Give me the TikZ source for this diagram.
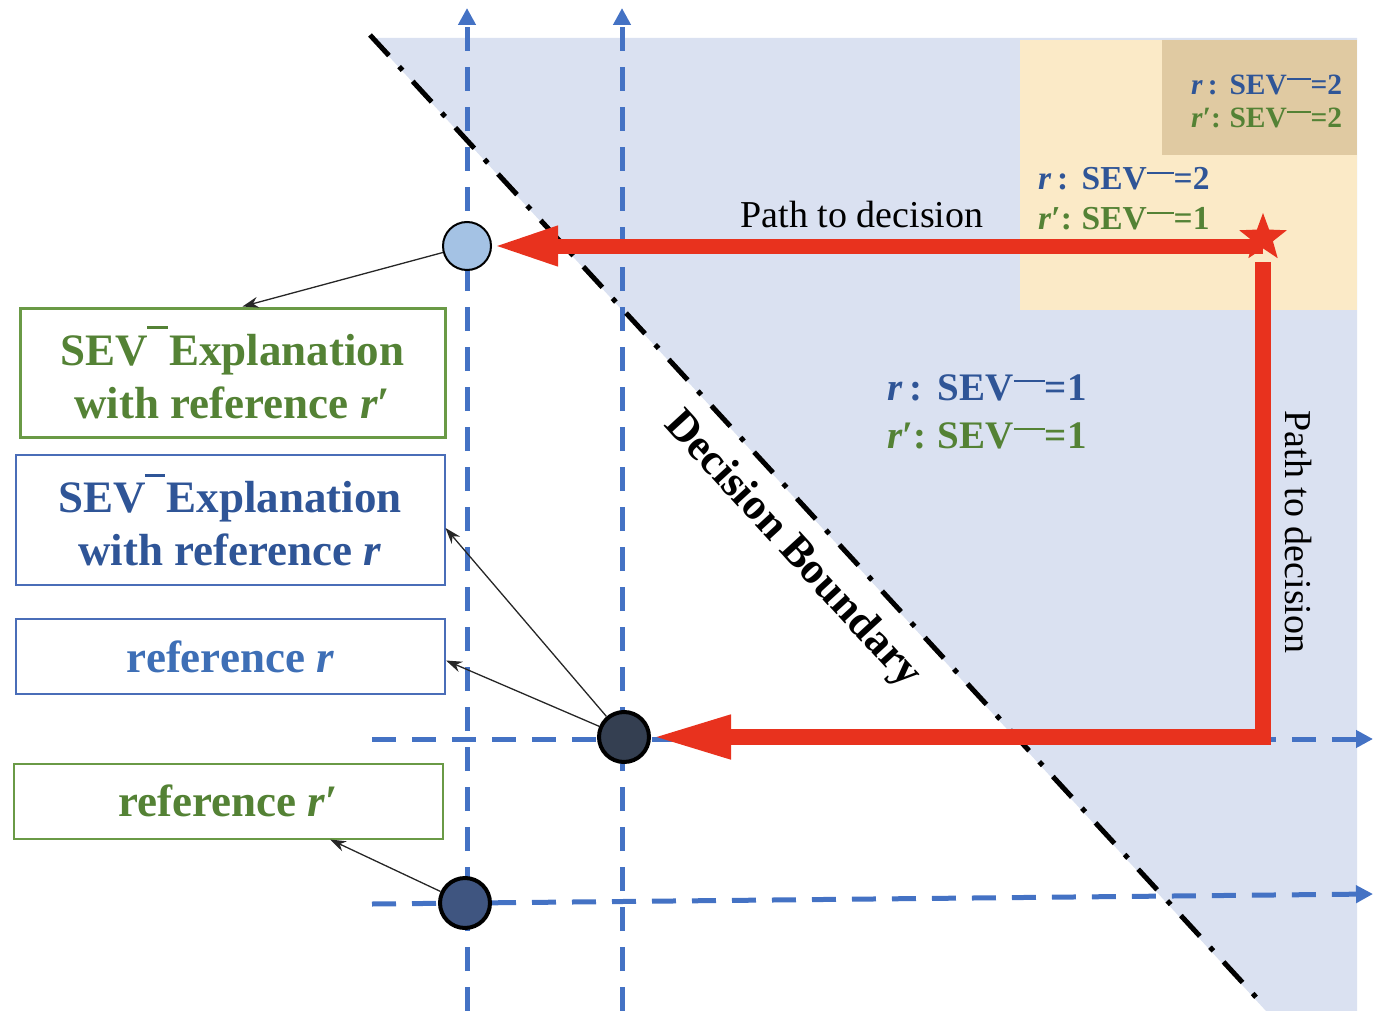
\documentclass[tikz,border=0pt]{standalone}
\usepackage{fontspec}
\setmainfont{Liberation Serif}
\usetikzlibrary{arrows.meta,shapes.geometric}
\definecolor{bgblue}{HTML}{DAE1F1}
\definecolor{bgyel}{HTML}{FBEAC7}
\definecolor{bgtan}{HTML}{E0CAA2}
\definecolor{dblue}{HTML}{2F5597}
\definecolor{lblue}{HTML}{3E6FB6}
\definecolor{dgreen}{HTML}{548235}
\definecolor{bgreen}{HTML}{6A9A46}
\definecolor{bblue}{HTML}{4A6DB8}
\definecolor{gridc}{HTML}{4472C4}
\definecolor{redc}{HTML}{E8321E}
\definecolor{lcirc}{HTML}{A4C2E4}
\definecolor{dcirc}{HTML}{343F51}
\definecolor{ncirc}{HTML}{3F5580}
\newcommand{\sevbar}{\hspace{-0.02em}\raisebox{0.8em}{\rule{0.45em}{0.07em}}\hspace{0.03em}}
\newcommand{\sevm}{\raisebox{0.47em}{\rule{0.8em}{0.06em}}}
\newcommand{\rpr}{\textit{r}′}
\newcommand{\lab}[2]{\makebox[1.3em][l]{#1}SEV\sevm=#2}
\begin{document}
\begin{tikzpicture}[x=1pt,y=-1pt,
  gridline/.style={draw=gridc, line width=5pt, dash pattern=on 24pt off 16pt, -{Triangle[length=17pt,width=17pt]}},
  boundary/.style={draw=black, line width=5pt, dash pattern=on 28pt off 15pt on 5pt off 15pt},
  redpath/.style={draw=redc, line width=15pt, line join=miter},
  thinarrow/.style={draw=black!85, line width=1.3pt, -{Stealth[length=16pt,width=11pt]}},
  boxbase/.style={rectangle, inner sep=0pt, align=center, font=\bfseries\fontsize{45}{53}\selectfont},
  greenbox/.style={boxbase, draw=bgreen, text=dgreen},
  bluebox/.style={boxbase, draw=bblue, text=dblue},
  dot/.style={circle, draw=black, minimum size=48pt, inner sep=0pt},
  labtext/.style={anchor=west, align=left, inner sep=0pt},
  redstar/.style={star, star points=5, star point ratio=2.4, fill=redc, inner sep=0pt, minimum size=50pt}
]
\useasboundingbox (0,0) rectangle (1373,1011);
% background regions
\fill[bgblue] (372,38) -- (1357,38) -- (1357,1011) -- (1266,1011) -- cycle;
\fill[bgyel] (1020,40) rectangle (1357,310);
\fill[bgtan] (1162,40) rectangle (1357,155);

% grid coordinates
\coordinate (v1b) at (467,1011);
\coordinate (v1t) at (467,8);
\coordinate (v2b) at (622,1011);
\coordinate (v2t) at (622,8);
\coordinate (h1l) at (372,739);
\coordinate (h1r) at (1373,739);
\coordinate (h2l) at (372,904);
\coordinate (h2r) at (1373,894);
\draw[gridline] (v1b) -- (v1t);
\draw[gridline] (v2b) -- (v2t);
\draw[gridline] (h1l) -- (h1r);
\draw[gridline] (h2l) -- (h2r);

% decision boundary
\coordinate (bs) at (370,35);
\coordinate (be) at (1266,1008);
\draw[boundary] (bs) -- (be);

% circles
\node[dot, fill=lcirc, line width=2pt] (lc) at (467,246) {};
\node[dot, fill=dcirc, line width=4pt, minimum size=50pt] (dc) at (624,737) {};
\node[dot, fill=ncirc, line width=4pt, minimum size=50pt] (nc) at (465,903) {};

% star and red paths
\coordinate (hs) at (1263,246);
\coordinate (vs) at (1263,262);
\draw[redpath, -{Triangle[length=66pt,width=36pt]}] (hs) -- (lc);
\draw[redpath, line width=16pt, -{Triangle[length=80pt,width=40pt]}] (vs) -- (vs |- dc) -- (dc);
\node[redstar] (st) at (1263,238) {};

% boxes
\node[greenbox, line width=3pt, minimum width=425pt, minimum height=129pt] (b1) at (232.5,372.5)
  {SEV\sevbar Explanation\\with reference \rpr};
\node[bluebox, line width=2pt, minimum width=429pt, minimum height=130pt] (b2) at (230,520)
  {SEV\sevbar Explanation\\with reference \textit{r}};
\node[boxbase, draw=bblue, text=lblue, line width=2pt, minimum width=429pt, minimum height=75pt] (b3) at (230.5,656.5)
  {reference \textit{r}};
\node[greenbox, line width=2pt, minimum width=429pt, minimum height=75pt] (b4) at (228,801)
  {reference \rpr};

% thin arrows
\draw[thinarrow] (lc) -- ([xshift=10pt]b1.north);
\draw[thinarrow] (dc) -- ([yshift=-8pt]b2.east);
\draw[thinarrow] (dc) -- ([yshift=-4pt]b3.east);
\draw[thinarrow] (nc) -- ([xshift=102pt]b4.south);

% texts
\node[font=\fontsize{38}{40}\selectfont, inner sep=0pt] (p1) at (862,215) {Path to decision};
\node[rotate=-90, font=\fontsize{38}{40}\selectfont, inner sep=0pt] (p2) at (1298,532) {Path to decision};
\node[rotate=-47.5, font=\bfseries\fontsize{44}{46}\selectfont, inner sep=0pt] (db) at (792,550) {Decision Boundary};

\node[labtext, font=\bfseries\fontsize{29.5}{33}\selectfont] (l1) at (1191,101)
  {\textcolor{dblue}{\lab{\textit{r}\,:}{2}}\\\textcolor{dgreen}{\lab{\rpr:}{2}}};
\node[labtext, font=\bfseries\fontsize{33.5}{40}\selectfont] (l2) at (1038,199)
  {\textcolor{dblue}{\lab{\textit{r}\,:}{2}}\\\textcolor{dgreen}{\lab{\rpr:}{1}}};
\node[labtext, font=\bfseries\fontsize{39}{48}\selectfont] (l3) at (887,412)
  {\textcolor{dblue}{\lab{\textit{r}\,:}{1}}\\\textcolor{dgreen}{\lab{\rpr:}{1}}};
\end{tikzpicture}
\end{document}
